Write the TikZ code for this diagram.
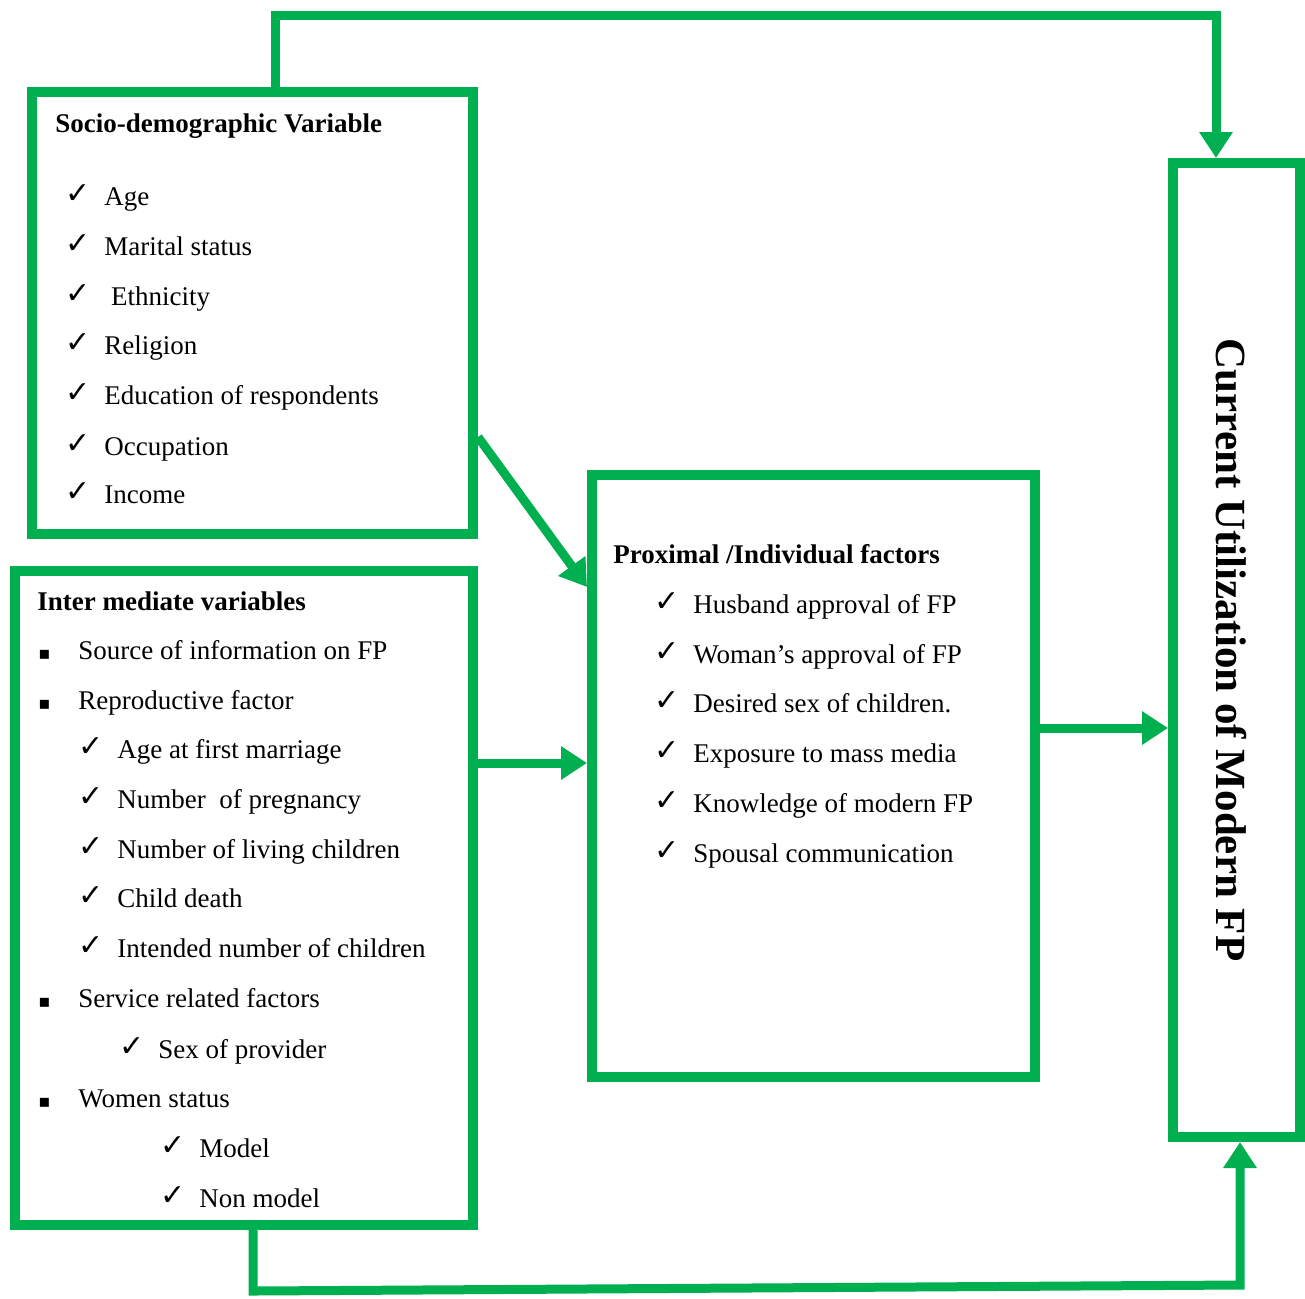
\documentclass[tikz,border=0pt]{standalone}
\usepackage{fontspec}
\setmainfont{Liberation Serif}
\newfontfamily\symfont{DejaVu Sans}
\usetikzlibrary{arrows.meta}
\definecolor{fpgreen}{RGB}{0,176,80}
\newcommand{\fpcheck}{\makebox[19.5pt][l]{\symfont\fontsize{15}{15}\selectfont\raisebox{1pt}{✓}}}
\newcommand{\fpbullet}{\makebox[20pt][l]{\symfont\fontsize{9}{10}\selectfont ▪}}
\begin{document}
\begin{tikzpicture}[x=0.5pt,y=-0.5pt,
    fpbox/.style={draw=fpgreen,line width=5pt,inner sep=0pt},
    flow/.style={draw=fpgreen,line width=4.5pt,line join=miter,-{Triangle[width=16pt,length=13pt]}},
    item/.style={anchor=base west,inner sep=0pt,font=\fontsize{13.5}{16}\selectfont},
    head/.style={item,font=\fontsize{13.5}{16}\selectfont\bfseries}]
  \useasboundingbox (0,0) rectangle (1305,1298);
  % boxes
  \node[fpbox,minimum width=220.5pt,minimum height=221pt] (socio) at (252.5,313) {};
  \node[fpbox,minimum width=229pt,minimum height=327pt] (inter) at (244,898) {};
  \node[fpbox,minimum width=221.5pt,minimum height=301pt] (proximal) at (813.5,776) {};
  \node[fpbox,minimum width=63.5pt,minimum height=487pt] (current) at (1236.5,650) {};
  % socio-demographic
  \node[head] (sochead) at (55,132) {Socio-demographic Variable};
  \node[item] (soc1) at (65,205) {\fpcheck Age};
  \node[item] (soc2) at (65,255) {\fpcheck Marital status};
  \node[item] (soc3) at (65,305) {\fpcheck\ Ethnicity};
  \node[item] (soc4) at (65,354) {\fpcheck Religion};
  \node[item] (soc5) at (65,404) {\fpcheck Education of respondents};
  \node[item] (soc6) at (65,455) {\fpcheck Occupation};
  \node[item] (soc7) at (65,503) {\fpcheck Income};
  % intermediate
  \node[head] (inthead) at (37,610) {Inter mediate variables};
  \node[item] (int1) at (38,659) {\fpbullet Source of information on FP};
  \node[item] (int2) at (38,709) {\fpbullet Reproductive factor};
  \node[item] (int3) at (78,758) {\fpcheck Age at first marriage};
  \node[item] (int4) at (78,808) {\fpcheck Number\ \ of pregnancy};
  \node[item] (int5) at (78,858) {\fpcheck Number of living children};
  \node[item] (int6) at (78,907) {\fpcheck Child death};
  \node[item] (int7) at (78,957) {\fpcheck Intended number of children};
  \node[item] (int8) at (38,1007) {\fpbullet Service related factors};
  \node[item] (int9) at (119,1058) {\fpcheck Sex of provider};
  \node[item] (int10) at (38,1107) {\fpbullet Women status};
  \node[item] (int11) at (160,1157) {\fpcheck Model};
  \node[item] (int12) at (160,1207) {\fpcheck Non model};
  % proximal
  \node[head] (proxhead) at (613,563) {Proximal /Individual factors};
  \node[item] (prox1) at (654,613) {\fpcheck Husband approval of FP};
  \node[item] (prox2) at (654,663) {\fpcheck Woman’s approval of FP};
  \node[item] (prox3) at (654,712) {\fpcheck Desired sex of children.};
  \node[item] (prox4) at (654,762) {\fpcheck Exposure to mass media};
  \node[item] (prox5) at (654,812) {\fpcheck Knowledge of modern FP};
  \node[item] (prox6) at (654,862) {\fpcheck Spousal communication};
  % outcome
  \node[rotate=-90,inner sep=0pt,font=\fontsize{21.5}{24}\selectfont\bfseries] (outcome) at (1231,650) {Current Utilization of Modern FP};
  % connectors
  \coordinate (topL) at (275,15);
  \coordinate (topR) at (1216,15);
  \coordinate (botL) at (253,1291);
  \coordinate (botR) at (1240,1285);
  \draw[flow] ([xshift=11.25pt]socio.north) -- (topL) -- (topR) -- ([xshift=-10.25pt]current.north);
  \draw[flow] ([yshift=-62pt]socio.east) -- ([yshift=94.5pt]proximal.west);
  \draw[flow] ([yshift=67.5pt]inter.east) -- ([yshift=6.5pt]proximal.west);
  \draw[flow] ([yshift=24pt]proximal.east) -- ([yshift=-39pt]current.west);
  \draw[flow] ([xshift=4.5pt]inter.south) -- (botL) -- (botR) -- ([xshift=1.75pt]current.south);
\end{tikzpicture}
\end{document}
